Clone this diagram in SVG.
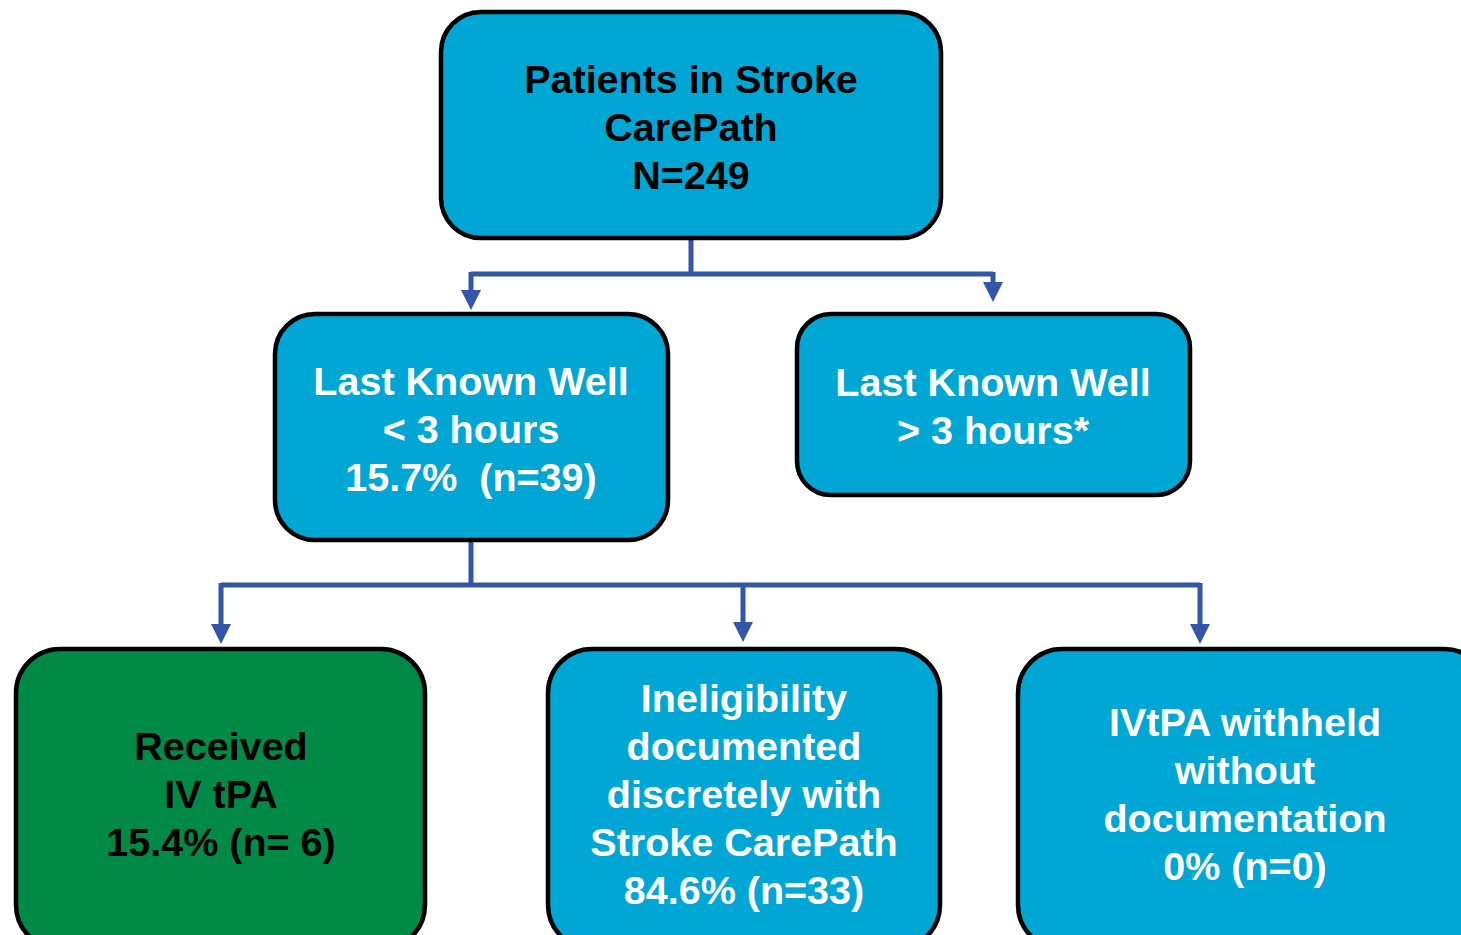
<svg xmlns="http://www.w3.org/2000/svg" width="1461" height="935" viewBox="0 0 1461 935">
<style>
.box{fill:#00A7D5;stroke:#000;stroke-width:4.5}
.green{fill:#008A45;stroke:#000;stroke-width:4.5}
.t{font-family:"Liberation Sans",Arial,sans-serif;font-weight:bold;font-size:39.5px;text-anchor:middle}
.w{fill:#fff}
.k{fill:#000}
.c{fill:none;stroke:#3356A6;stroke-width:5}
</style>
<defs>
<polygon id="arrowShape" points="-10,0 10,0 0,20" fill="#3356A6"/>
</defs>
<rect width="1461" height="935" fill="#fff"/>
<g id="connectors">
<path class="c" d="M691,238 V274 M471,274 H993 M471,272 V292 M993,272 V284"/>
<use href="#arrowShape" x="471" y="290"/>
<use href="#arrowShape" x="993" y="282"/>
<path class="c" d="M471,540 V585 M221,585 H1200 M221,583 V626 M743,583 V624 M1200,583 V626"/>
<use href="#arrowShape" x="221" y="624"/>
<use href="#arrowShape" x="743" y="622"/>
<use href="#arrowShape" x="1200" y="624"/>
</g>
<g id="n-top">
<rect class="box" x="441" y="12" width="500" height="226" rx="40"/>
<text class="t k" x="691" y="93">Patients in Stroke</text>
<text class="t k" x="691" y="141">CarePath</text>
<text class="t k" x="691" y="189">N=249</text>
</g>
<g id="n-lkw-lt3">
<rect class="box" x="275" y="314" width="393" height="226" rx="40"/>
<text class="t w" x="471" y="395">Last Known Well</text>
<text class="t w" x="471" y="443">&lt; 3 hours</text>
<text class="t w" x="471" y="491" xml:space="preserve">15.7%  (n=39)</text>
</g>
<g id="n-lkw-gt3">
<rect class="box" x="797" y="314" width="393" height="181" rx="34"/>
<text class="t w" x="993" y="396">Last Known Well</text>
<text class="t w" x="993" y="444">&gt; 3 hours*</text>
</g>
<g id="n-received">
<rect class="green" x="16" y="649" width="409" height="300" rx="44"/>
<text class="t k" x="221" y="760">Received</text>
<text class="t k" x="221" y="808">IV tPA</text>
<text class="t k" x="221" y="856">15.4% (n= 6)</text>
</g>
<g id="n-ineligible">
<rect class="box" x="548" y="649" width="392" height="300" rx="44"/>
<text class="t w" x="744" y="712">Ineligibility</text>
<text class="t w" x="744" y="760">documented</text>
<text class="t w" x="744" y="808">discretely with</text>
<text class="t w" x="744" y="856">Stroke CarePath</text>
<text class="t w" x="744" y="904">84.6% (n=33)</text>
</g>
<g id="n-withheld">
<rect class="box" x="1018" y="649" width="470" height="300" rx="44"/>
<text class="t w" x="1245" y="736">IVtPA withheld</text>
<text class="t w" x="1245" y="784">without</text>
<text class="t w" x="1245" y="832">documentation</text>
<text class="t w" x="1245" y="880">0% (n=0)</text>
</g>
</svg>
